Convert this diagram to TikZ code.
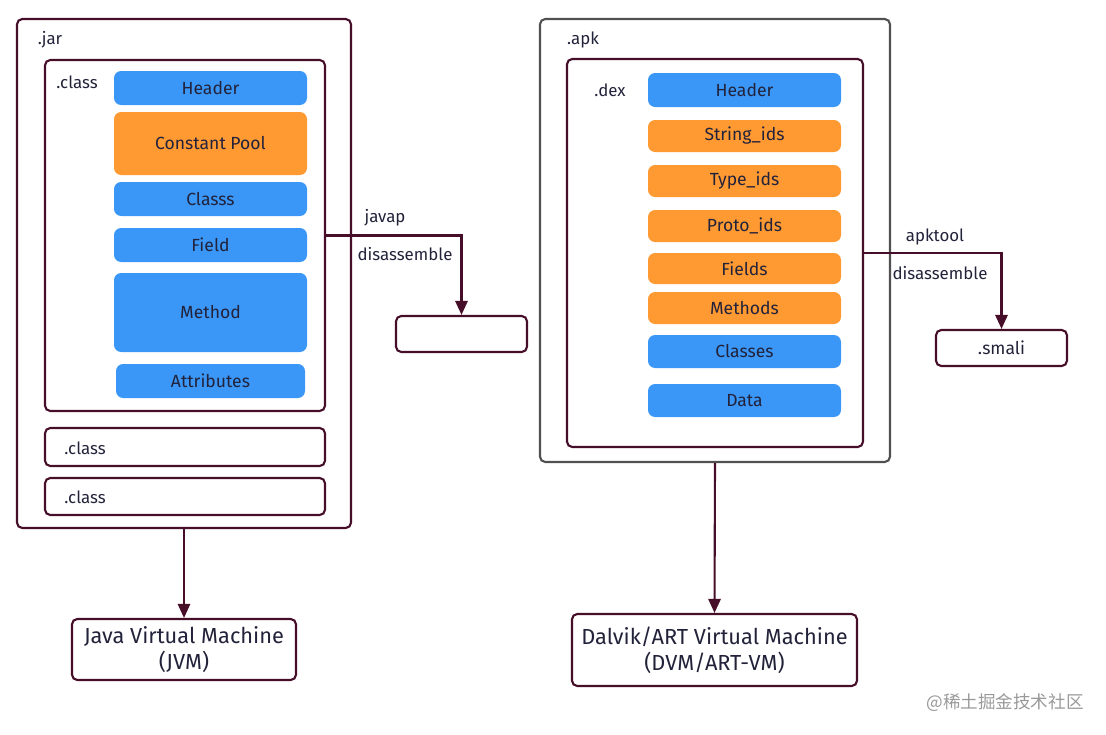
\documentclass[tikz,border=0pt]{standalone}
\usepackage{fontspec}
\setmainfont{Fira Sans}
\newfontfamily\cjk{Noto Sans CJK SC}
\usetikzlibrary{arrows.meta}

\definecolor{edge}{RGB}{70,14,40}
\definecolor{apkedge}{RGB}{80,80,80}
\definecolor{partblue}{RGB}{58,151,247}
\definecolor{partorange}{RGB}{255,154,51}
\definecolor{ink}{RGB}{34,34,58}

\tikzset{
    frame/.style={draw=edge, line width=1.2pt, rounded corners=3pt, inner sep=0pt},
    part/.style={rounded corners=4pt, text=ink, inner sep=0pt, font=\fontsize{10}{12}\selectfont},
    bluepart/.style={part, fill=partblue},
    orangepart/.style={part, fill=partorange},
    lab/.style={text=ink, font=\fontsize{9.6}{12}\selectfont},
    vm/.style={frame, align=center, text=ink, font=\fontsize{12.4}{15}\selectfont},
    flow/.style={draw=edge, line width=1.2pt, -{Triangle[length=8pt, width=7pt]}}
}

\begin{document}
\begin{tikzpicture}[x=0.02cm, y=-0.02cm]
            \useasboundingbox (0, 0) rectangle (1106, 734);

            \node[frame, minimum width=334*0.02cm, minimum height=509*0.02cm] (jar) at (184, 273.5) {};
            \node[frame, minimum width=280*0.02cm, minimum height=351*0.02cm] (class) at (185, 235.5) {};
            \node[frame, minimum width=280*0.02cm, minimum height=38*0.02cm] (classb) at (185, 447) {};
            \node[frame, minimum width=280*0.02cm, minimum height=37*0.02cm] (classc) at (185, 496.5) {};

            \node[lab] (jarlab) at (50, 40) {.jar};
            \node[lab] (classlab) at (77, 82) {.class};
            \node[lab] (classblab) at (85, 448) {.class};
            \node[lab] (classclab) at (85, 497) {.class};

            \node[bluepart, minimum width=193*0.02cm, minimum height=34*0.02cm] (header) at (210.5, 88) {Header};
            \node[orangepart, minimum width=193*0.02cm, minimum height=63*0.02cm] (pool) at (210.5, 143.5) {Constant Pool};
            \node[bluepart, minimum width=193*0.02cm, minimum height=34*0.02cm] (classs) at (210.5, 199) {Classs};
            \node[bluepart, minimum width=193*0.02cm, minimum height=34*0.02cm] (field) at (210.5, 245) {Field};
            \node[bluepart, minimum width=193*0.02cm, minimum height=79*0.02cm] (method) at (210.5, 312.5) {Method};
            \node[bluepart, minimum width=189*0.02cm, minimum height=34*0.02cm] (attr) at (210.5, 381) {Attributes};

            \node[frame, minimum width=131*0.02cm, minimum height=36*0.02cm] (javapout) at (461.5, 334) {};
            \node[vm, minimum width=224*0.02cm, minimum height=61*0.02cm] (jvm) at (184, 649.5) {Java Virtual Machine\\(JVM)};

            \node[frame, draw=apkedge, minimum width=350*0.02cm, minimum height=443*0.02cm] (apk) at (715, 240.5) {};
            \node[frame, minimum width=296*0.02cm, minimum height=388*0.02cm] (dex) at (715, 253) {};
            \node[lab] (apklab) at (583, 40) {.apk};
            \node[lab] (dexlab) at (610, 90) {.dex};

            \foreach \n/\y/\h/\t/\c in {1/90/34/Header/bluepart, 2/136/32/String\_ids/orangepart,
                                       3/181/32/Type\_ids/orangepart, 4/226/32/Proto\_ids/orangepart,
                                       5/268.5/31/Fields/orangepart, 6/308/32/Methods/orangepart,
                                       7/351.5/33/Classes/bluepart, 8/400.5/33/Data/bluepart}{
                \node[\c, minimum width=193*0.02cm, minimum height=\h*0.02cm] (dex\n) at (744.5, \y) {\t};
            }

            \node[frame, minimum width=131*0.02cm, minimum height=36*0.02cm, text=ink,
                  font=\fontsize{10}{12}\selectfont] (smali) at (1001.5, 348) {.smali};
            \node[vm, minimum width=285*0.02cm, minimum height=72*0.02cm] (dvm) at (714.5, 650) {Dalvik/ART Virtual Machine\\(DVM/ART-VM)};

            \draw[flow] (class.east) -| (javapout.north);
            \draw[flow] (dex.east) -| (smali.north);
            \draw[flow] (jar.south) -- (jvm.north);
            \draw[flow] (apk.south) -- (dvm.north);

            \node[lab] (javaplab) at (385, 218) {javap};
            \node[lab] (disalab) at (405, 254) {disassemble};
            \node[lab] (apktoollab) at (935, 237) {apktool};
            \node[lab] (disblab) at (940, 273) {disassemble};

            \node[text=gray!80, font=\cjk\fontsize{10}{12}\selectfont] (mark) at (1005, 703) {@稀土掘金技术社区};
        \end{tikzpicture}
\end{document}
